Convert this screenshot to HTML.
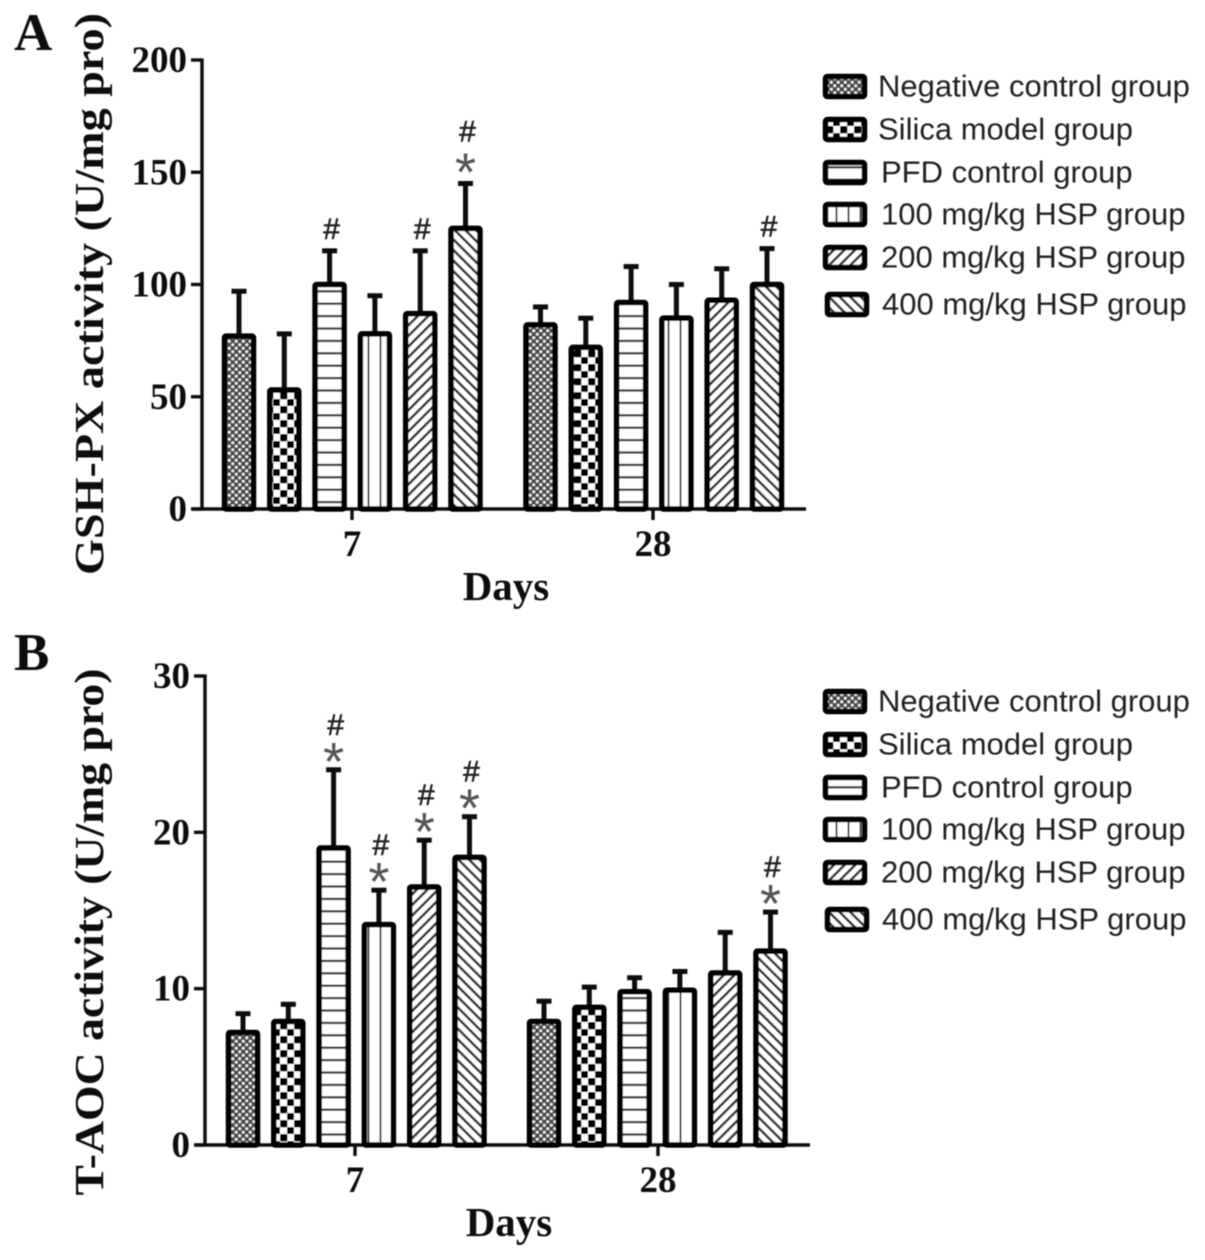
<!DOCTYPE html>
<html>
<head>
<meta charset="utf-8">
<title>GSH-PX and T-AOC activity</title>
<style>
html,body{margin:0;padding:0;background:#fff;}
svg{display:block;}
</style>
</head>
<body>
<svg id="figure" xmlns="http://www.w3.org/2000/svg" width="1205" height="1260" viewBox="0 0 1205 1260">
<defs>
<filter id="soft" x="-2%" y="-2%" width="104%" height="104%"><feGaussianBlur stdDeviation="0.6"/></filter>
<pattern id="pat-0" patternUnits="userSpaceOnUse" width="7" height="7"><rect width="7" height="7" fill="#4a4a4a"/><circle cx="1.75" cy="1.75" r="1.5" fill="#eee"/><circle cx="5.25" cy="5.25" r="1.5" fill="#eee"/></pattern>
<pattern id="pat-1" patternUnits="userSpaceOnUse" width="14" height="14"><rect width="14" height="14" fill="#fff"/><rect x="0" y="0" width="7.4" height="7.4" rx="1.5" fill="#000"/><rect x="7" y="7" width="7.4" height="7.4" rx="1.5" fill="#000"/></pattern>
<pattern id="pat-2" patternUnits="userSpaceOnUse" width="12" height="12.4"><rect width="12" height="12.4" fill="#fff"/><rect y="5" width="12" height="2.2" fill="#333"/></pattern>
<pattern id="pat-3" patternUnits="userSpaceOnUse" width="12" height="12" x="3"><rect width="12" height="12" fill="#fff"/><rect x="4.5" width="2" height="12" fill="#444"/></pattern>
<pattern id="pat-4" patternUnits="userSpaceOnUse" width="7.5" height="7.5" patternTransform="rotate(45)"><rect width="7.5" height="7.5" fill="#fff"/><rect x="0" width="2.6" height="7.5" fill="#333"/></pattern>
<pattern id="pat-5" patternUnits="userSpaceOnUse" width="7.5" height="7.5" patternTransform="rotate(-45)"><rect width="7.5" height="7.5" fill="#fff"/><rect x="0" width="2.6" height="7.5" fill="#333"/></pattern>
</defs>
<g id="root" filter="url(#soft)"></g>
</svg>
<script>
const groupNames = ["Negative control group", "Silica model group", "PFD control group", "100 mg/kg HSP group", "200 mg/kg HSP group", "400 mg/kg HSP group"];
const dayLabels = ["7", "28"];
const ticksA = [0, 50, 100, 150, 200];
const ticksB = [0, 10, 20, 30];
const gshDay7 = [77, 53, 100, 78, 87, 125];
const gshDay28 = [82, 72, 92, 85, 93, 100];
const gshErrDay7 = [20, 25, 15, 17, 28, 20];
const gshErrDay28 = [8, 13, 16, 15, 14, 16];
const gshMarksDay7 = ["", "", "#", "", "#", "*#"];
const gshMarksDay28 = ["", "", "", "", "", "#"];
const aocDay7 = [7.2, 7.9, 19, 14.1, 16.5, 18.4];
const aocDay28 = [7.9, 8.8, 9.8, 9.9, 11, 12.4];
const aocErrDay7 = [1.2, 1.1, 5, 2.2, 3, 2.6];
const aocErrDay28 = [1.3, 1.3, 0.9, 1.2, 2.6, 2.5];
const aocMarksDay7 = ["", "", "*#", "*#", "*#", "*#"];
const aocMarksDay28 = ["", "", "", "", "", "*#"];

const NS = "http://www.w3.org/2000/svg";
const root = document.getElementById("root");
const SERIF = '"Liberation Serif", serif';
const SANS = '"Liberation Sans", sans-serif';

function make(tag, attrs, parent) {
  const el = document.createElementNS(NS, tag);
  for (const k in attrs) el.setAttribute(k, attrs[k]);
  (parent || root).appendChild(el);
  return el;
}

function drawLine(x1, y1, x2, y2, w, name, parent) {
  const el = make("line", {x1: x1, y1: y1, x2: x2, y2: y2, stroke: "#111", "stroke-width": w}, parent);
  
  
  return el;
}

function drawText(str, x, y, size, anchor, family, weight, name, parent) {
  const el = make("text", {x: x, y: y, "font-size": size, "text-anchor": anchor, "font-family": family, "font-weight": weight, fill: "#111"}, parent);
  el.textContent = str;
  
  
  return el;
}

function drawPanel(cfg) {
  const g = make("g", {});
  
  

  const yScale = function (v) { return cfg.y0 - (v / cfg.yMax) * (cfg.y0 - cfg.yTop); };
  const xScale = function (day, idx) { return cfg.dayStart[day] + idx * cfg.step; };

  drawText(cfg.letter, cfg.letterX, cfg.letterY, 53, "start", SERIF, "bold", "panel-label", g);

  drawLine(cfg.axisX, cfg.yTop - 1.5, cfg.axisX, cfg.y0 + 1.5, 3.4, "y-axis", g);
  drawLine(cfg.axisStart, cfg.y0, cfg.axisEnd, cfg.y0, 3.4, "x-axis", g);

  cfg.ticks.forEach(function (t) {
    const y = yScale(t);
    drawLine(cfg.axisX - 11, y, cfg.axisX, y, 3.4, "y-tick", g);
    drawText(String(t), cfg.axisX - 15, y + 12, 37, "end", SERIF, "bold", "y-tick-label", g);
  });

  dayLabels.forEach(function (label, d) {
    const x = cfg.dayTick[d];
    drawLine(x, cfg.y0, x, cfg.y0 + 11, 3.4, "x-tick", g);
    drawText(label, x, cfg.y0 + 47, 37, "middle", SERIF, "bold", "x-tick-label", g);
  });

  const yTitle = drawText(cfg.yTitle, 0, 0, 41, "middle", SERIF, "bold", "y-axis-title", g);
  yTitle.setAttribute("transform", "translate(" + cfg.yTitleX + "," + cfg.yTitleY + ") rotate(-90)");
  yTitle.setAttribute("textLength", cfg.yTitleLen);
  yTitle.setAttribute("lengthAdjust", "spacingAndGlyphs");

  drawText("Days", cfg.xTitleX, cfg.y0 + 91, 41, "middle", SERIF, "bold", "x-axis-title", g);

  dayLabels.forEach(function (label, d) {
    cfg.values[d].forEach(function (v, i) {
      const cx = xScale(d, i);
      const top = yScale(v);
      const errTop = yScale(v + cfg.errors[d][i]);

      drawLine(cx, top, cx, errTop, 5, "error-bar", g);
      drawLine(cx - 7.5, errTop, cx + 7.5, errTop, 5, "error-cap", g);

      const bar = make("rect", {x: cx - 14.5, y: top, width: 29, height: cfg.y0 - top, rx: 1.5, fill: "url(#pat-" + i + ")", stroke: "#000", "stroke-width": 5.5}, g);
      
      

      const marks = cfg.marks[d][i];
      let my = errTop;
      for (let c = 0; c < marks.length; c++) {
        if (marks[c] === "*") {
          const star = drawText("*", cx, my - cfg.starLift + 25, 54, "middle", SANS, "normal", "significance-star", g);
          star.setAttribute("fill", "#555");
          my -= cfg.hashGap;
        } else {
          const hash = drawText("#", cx + 2, my - 12, 30, "middle", SANS, "normal", "significance-hash", g);
          hash.setAttribute("fill", "#222");
          hash.setAttribute("stroke", "#222");
          hash.setAttribute("stroke-width", "0.6");
        }
      }
    });
  });

  const legendY = [87, 130, 173, 215, 258, 305];
  const legendTextX = [878, 878, 881, 881, 881, 882];
  const legendSwatchX = [823, 823, 823, 823, 823, 825];
  groupNames.forEach(function (name, i) {
    const entry = make("g", {}, g);
    
    
    const y = legendY[i] + cfg.legendOffset;
    const sw = make("rect", {x: legendSwatchX[i] + 2.5, y: y - 10.5, width: 39, height: 20, rx: 2, fill: "url(#pat-" + i + ")", stroke: "#000", "stroke-width": 5.5}, entry);
    
    
    const label = drawText(name, legendTextX[i], y + 9.5, 31, "start", SANS, "normal", "legend-label", entry);
    label.setAttribute("fill", "#222");
  });
}

drawPanel({
  name: "panel-a", letter: "A", letterX: 14, letterY: 50,
  axisX: 202, yTop: 60, y0: 509, yMax: 200, ticks: ticksA,
  axisStart: 192, axisEnd: 806,
  dayStart: [239, 540.5], step: 45.3, dayTick: [352, 653],
  yTitle: "GSH-PX activity (U/mg pro)", yTitleX: 103, yTitleY: 294, yTitleLen: 562,
  xTitleX: 506, legendOffset: 0, starLift: 18, hashGap: 30,
  values: [gshDay7, gshDay28], errors: [gshErrDay7, gshErrDay28], marks: [gshMarksDay7, gshMarksDay28]
});
drawPanel({
  name: "panel-b", letter: "B", letterX: 14, letterY: 670,
  axisX: 205, yTop: 676, y0: 1145, yMax: 30, ticks: ticksB,
  axisStart: 195, axisEnd: 810,
  dayStart: [243, 544], step: 45.3, dayTick: [355, 658],
  yTitle: "T-AOC activity (U/mg pro)", yTitleX: 103, yTitleY: 932, yTitleLen: 527,
  xTitleX: 509, legendOffset: 615, starLift: 15, hashGap: 23,
  values: [aocDay7, aocDay28], errors: [aocErrDay7, aocErrDay28], marks: [aocMarksDay7, aocMarksDay28]
});
</script>
</body>
</html>
